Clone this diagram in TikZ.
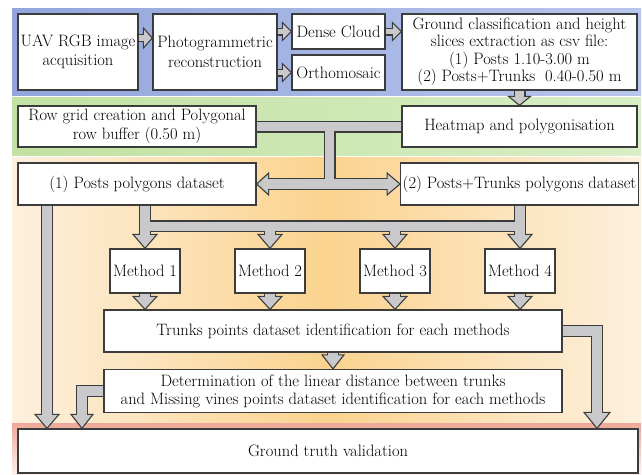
\documentclass[tikz,border=0pt]{standalone}
\usepackage{tikz}
\usetikzlibrary{calc, positioning}

\definecolor{boxline}{HTML}{3C3C3C}
\definecolor{bargray}{HTML}{C9C9CB}
\definecolor{bandblueA}{HTML}{93A6DC}
\definecolor{bandblueB}{HTML}{B8C5EC}
\definecolor{bandgreenA}{HTML}{C2E1A2}
\definecolor{bandgreenB}{HTML}{D8EEC4}
\definecolor{bandorangeA}{HTML}{FDF0DE}
\definecolor{bandorangeB}{HTML}{FBD38E}
\definecolor{bandpinkA}{HTML}{EEA898}
\definecolor{bandpinkB}{HTML}{FCEFEC}

\tikzset{
	stage/.style={draw=boxline, line width=1.3pt, fill=white, align=center, inner sep=2pt,
		font=\fontsize{16.5}{19.5}\selectfont},
	barout/.style={line width=12pt, draw=boxline, line join=miter},
	barin/.style={line width=9.6pt, draw=bargray, line join=miter},
	thinout/.style={line width=8pt, draw=boxline},
	thinin/.style={line width=5.8pt, draw=bargray},
	tipline/.style={fill=bargray, draw=boxline, line width=1.1pt, line join=miter},
}
% block arrow heads: tip, half width, length
\newcommand{\tipdown}[3]{\filldraw[tipline] (#1) -- ++(-#2,-#3) -- ++(2*#2,0) -- cycle;}
\newcommand{\tipright}[3]{\filldraw[tipline] (#1) -- ++(-#3,-#2) -- ++(0,2*#2) -- cycle;}
\newcommand{\tipleft}[3]{\filldraw[tipline] (#1) -- ++(#3,-#2) -- ++(0,2*#2) -- cycle;}

% all connector paths, drawn once per layer
\newcommand{\flowbars}[2]{
	% top row
	\draw[#2] (uav.east |- 0,38) -- ++(8,0);
	\draw[#2] (photo.east |- dense.west) -- ++(8,0);
	\draw[#2] (photo.east |- ortho.west) -- ++(8,0);
	\draw[#2] (dense.east) -- ++(10,0);
	\draw[#1] (ground.south) -- ++(0,8);
	% row grid / heatmap to the two datasets
	\draw[#1] (rowgrid.east) -- (heat.west);
	\draw[#1] (split) -- (split |- posts.east);
	\draw[#1] ($(posts.east)+(10,0)$) -- ($(pt.west)+(-11,0)$);
	% datasets to the methods
	\draw[#1] (posts.south -| postcol) -- ($(postcol |- truth.north)+(0,-12)$);
	\draw[#1] (posts.south -| m1.north) -- ($(m1.north)+(0,-12)$);
	\draw[#1] (mbus) -- (mbus -| m4.north);
	\draw[#1] (pt.south -| m4.north) -- ($(m4.north)+(0,-12)$);
	\draw[#1] (mbus -| m2.north) -- ($(m2.north)+(0,-12)$);
	\draw[#1] (mbus -| m3.north) -- ($(m3.north)+(0,-12)$);
	% methods to trunks
	\foreach \m in {m1, m2, m3, m4}
		\draw[#1] (\m.south) -- ++(0,5);
	\draw[#1] (trunks.south) -- ++(0,5);
	% to ground truth
	\draw[#1] (trunks.east) -- (trunks.east -| rcol) -- ($(rcol |- truth.north)+(0,-14)$);
	\draw[#1] (determ.west) -- (determ.west -| lcol) -- ($(lcol |- truth.north)+(0,-12)$);
}

\begin{document}
\begin{tikzpicture}[x=1pt, y=-1pt]
	\useasboundingbox (0,0) rectangle (642,474);

	% background bands
	\shade[left color=bandblueA, right color=bandblueB] (12,8) rectangle (641,95);
	\shade[left color=bandgreenA, right color=bandgreenB] (12,97) rectangle (641,155);
	\shade[left color=bandorangeA, right color=bandorangeA, middle color=bandorangeB] (12,157) rectangle (641,423);
	\shade[top color=bandpinkA, bottom color=bandpinkB] (12,423) rectangle (641,474);

	% stages
	\node[stage, minimum width=120pt, minimum height=76pt] (uav) at (78,52) {UAV RGB image\\acquisition};
	\node[stage, minimum width=124pt, minimum height=76pt] (photo) at (215,52) {Photogrammetric\\reconstruction};
	\node[stage, minimum width=93pt, minimum height=35pt] (dense) at (338.5,31.5) {Dense Cloud};
	\node[stage, minimum width=93pt, minimum height=35pt] (ortho) at (338.5,72.5) {Orthomosaic};
	\node[stage, minimum width=235pt, minimum height=76pt, font=\fontsize{16.5}{17.5}\selectfont] (ground) at (519.5,52)
		{Ground classification and height\\slices extraction as csv file:\\(1) Posts 1.10-3.00 m\\(2) Posts+Trunks\ \ 0.40-0.50 m};
	\node[stage, minimum width=235pt, minimum height=41pt] (heat) at (519.5,126.5) {Heatmap and polygonisation};
	\node[stage, minimum width=238pt, minimum height=41pt] (rowgrid) at (137,126.5) {Row grid creation and Polygonal\\row buffer (0.50 m)};
	\node[stage, minimum width=238pt, minimum height=42pt] (posts) at (137,184) {(1) Posts polygons dataset};
	\node[stage, minimum width=235pt, minimum height=42pt] (pt) at (519.5,184) {(2) Posts+Trunks polygons dataset};
	\node[stage, minimum width=70pt, minimum height=44pt] (m1) at (145,271) {Method 1};
	\node[stage, minimum width=70pt, minimum height=44pt] (m2) at (270,271) {Method 2};
	\node[stage, minimum width=70pt, minimum height=44pt] (m3) at (395,271) {Method 3};
	\node[stage, minimum width=70pt, minimum height=44pt] (m4) at (520,271) {Method 4};
	\node[stage, minimum width=458pt, minimum height=42pt] (trunks) at (333,331) {Trunks points dataset identification for each methods};
	\node[stage, minimum width=458pt, minimum height=43pt, font=\fontsize{16.5}{18}\selectfont] (determ) at (333,391)
		{Determination of the linear distance between trunks\\and Missing vines points dataset identification for each methods};
	\node[stage, minimum width=620pt, minimum height=44pt] (truth) at (328,451) {Ground truth validation};

	% junction points of the bars
	\coordinate (split) at (329.5,126.5);
	\coordinate (mbus) at ($(m1.north)+(0,-22)$);
	\coordinate (postcol) at (47,0);
	\coordinate (lcol) at (82,0);
	\coordinate (rcol) at (597,0);

	\flowbars{barout}{thinout}

	% heads
	\tipright{photo.west |- 0,38}{10}{9}
	\tipright{dense.west}{9}{9}
	\tipright{ortho.west}{9}{9}
	\tipright{dense.east -| ground.west}{9}{9}
	\tipdown{heat.north}{11}{9}
	\tipleft{posts.east}{11}{12}
	\tipright{pt.west}{11}{13}
	\tipdown{postcol |- truth.north}{12}{14}
	\foreach \m in {m1, m2, m3, m4} {\tipdown{\m.north}{12}{14}}
	\foreach \m in {m1, m2, m3, m4} {\tipdown{\m.south |- trunks.north}{12}{13}}
	\tipdown{determ.north}{11}{14}
	\tipdown{rcol |- truth.north}{13}{16}
	\tipdown{lcol |- truth.north}{11}{14}

	\flowbars{barin}{thinin}
\end{tikzpicture}
\end{document}
